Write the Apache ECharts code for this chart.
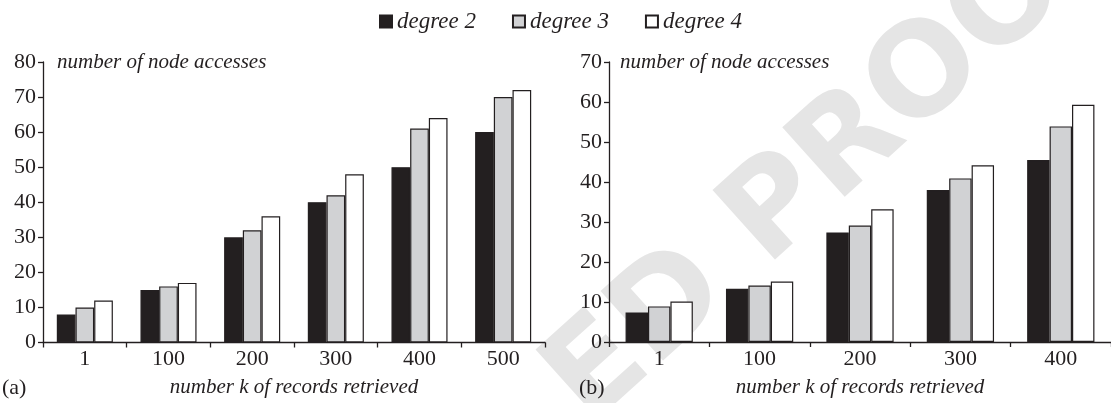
<!DOCTYPE html>
<html>
<head>
<meta charset="utf-8">
<script src="https://cdn.jsdelivr.net/npm/echarts@6/dist/echarts.min.js"></script>
<style>
  html, body { margin: 0; padding: 0; background: #fff; }
  #chart { width: 1111px; height: 403px; }
</style>
</head>
<body>
<div id="chart"></div>
<script>
// (a) node accesses vs. number k of records retrieved, k up to 500
const categoriesA = ['1', '100', '200', '300', '400', '500'];
const degree2A = [8, 15, 30, 40, 50, 60];
const degree3A = [10, 16, 32, 42, 61, 70];
const degree4A = [12, 17, 36, 48, 64, 72];

// (b) node accesses vs. number k of records retrieved, k up to 400
const categoriesB = ['1', '100', '200', '300', '400'];
const degree2B = [7.4, 13.3, 27.4, 38, 45.5];
const degree3B = [8.9, 14.1, 29.1, 40.9, 53.9];
const degree4B = [10.1, 15.1, 33.2, 44.2, 59.3];

const seriesNames = ['degree 2', 'degree 3', 'degree 4'];
const yTicksA = { max: 80, interval: 10 };
const yTicksB = { max: 70, interval: 10 };

const INK = '#231f20';
const FILLS = ['#231f20', '#d1d2d4', '#ffffff'];
const SERIF = '"Liberation Serif", "Times New Roman", serif';

function xAxis(gridIndex, cats) {
  return {
    type: 'category',
    gridIndex,
    data: cats,
    name: 'number k of records retrieved',
    nameLocation: 'middle',
    nameGap: 45,
    nameTextStyle: { fontFamily: SERIF, fontStyle: 'italic', fontSize: 21, color: INK, verticalAlign: 'middle' },
    axisLine: { lineStyle: { color: INK, width: 1.3 } },
    axisTick: { show: true, length: 5, inside: false, lineStyle: { color: INK, width: 1.3 } },
    axisLabel: { fontFamily: SERIF, fontSize: 22, color: INK, margin: 6 },
    splitLine: { show: false }
  };
}

function yAxis(gridIndex, ticks) {
  return {
    type: 'value',
    gridIndex,
    min: 0,
    max: ticks.max,
    interval: ticks.interval,
    axisLine: { show: true, lineStyle: { color: INK, width: 1.3 } },
    axisTick: { show: true, length: 5, inside: false, lineStyle: { color: INK, width: 1.3 } },
    axisLabel: { fontFamily: SERIF, fontSize: 22, color: INK, margin: 7 },
    splitLine: { show: false }
  };
}

function bars(name, idx, values, axisIndex) {
  return {
    name,
    type: 'bar',
    xAxisIndex: axisIndex,
    yAxisIndex: axisIndex,
    data: values,
    barGap: '0%',
    barCategoryGap: '33%',
    itemStyle: { color: FILLS[idx], borderColor: INK, borderWidth: 1.2 },
    emphasis: { disabled: true },
    z: 3
  };
}

const chart = echarts.init(document.getElementById('chart'), null, { renderer: 'canvas' });

chart.setOption({
  animation: false,
  backgroundColor: '#ffffff',
  textStyle: { fontFamily: SERIF },
  legend: {
    data: seriesNames,
    left: 374,
    top: 5,
    icon: 'rect',
    itemWidth: 12,
    itemHeight: 12,
    itemGap: 36,
    selectedMode: false,
    textStyle: { fontFamily: SERIF, fontStyle: 'italic', fontSize: 23, color: INK }
  },
  grid: [
    { left: 43, top: 62, width: 502, height: 281 },
    { left: 609, top: 62, width: 502, height: 280 }
  ],
  xAxis: [xAxis(0, categoriesA), xAxis(1, categoriesB)],
  yAxis: [yAxis(0, yTicksA), yAxis(1, yTicksB)],
  series: [
    bars(seriesNames[0], 0, degree2A, 0),
    bars(seriesNames[1], 1, degree3A, 0),
    bars(seriesNames[2], 2, degree4A, 0),
    bars(seriesNames[0], 0, degree2B, 1),
    bars(seriesNames[1], 1, degree3B, 1),
    bars(seriesNames[2], 2, degree4B, 1)
  ],
  graphic: [
    {
      // diagonal proof stamp behind the bars
      type: 'text', silent: true, z: 0,
      x: 567, y: 402, rotation: 42 * Math.PI / 180,
      style: {
        text: 'ED PROOF',
        fill: '#e5e5e5',
        font: 'bold 128px "DejaVu Sans", sans-serif',
        align: 'left',
        verticalAlign: 'middle'
      }
    },
    {
      type: 'text', silent: true, z: 5, x: 57, y: 62,
      style: { text: 'number of node accesses', fill: INK, font: 'italic 21px ' + SERIF, verticalAlign: 'middle' }
    },
    {
      type: 'text', silent: true, z: 5, x: 620, y: 62,
      style: { text: 'number of node accesses', fill: INK, font: 'italic 21px ' + SERIF, verticalAlign: 'middle' }
    },
    {
      type: 'text', silent: true, z: 5, x: 2, y: 388,
      style: { text: '(a)', fill: INK, font: '22px ' + SERIF, verticalAlign: 'middle' }
    },
    {
      type: 'text', silent: true, z: 5, x: 579, y: 388,
      style: { text: '(b)', fill: INK, font: '22px ' + SERIF, verticalAlign: 'middle' }
    }
  ]
});
</script>
</body>
</html>
